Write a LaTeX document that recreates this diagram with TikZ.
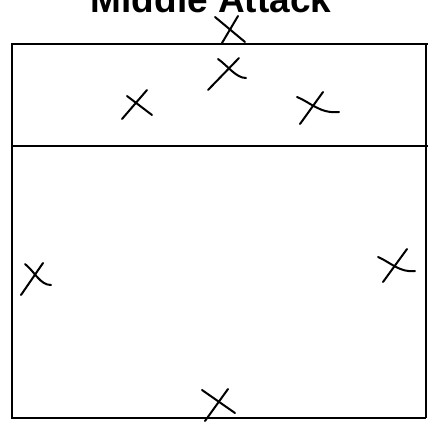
\documentclass[tikz,border=0pt]{standalone}
\usepackage{fontspec}
\setmainfont{Liberation Sans}
\begin{document}
	\begin{tikzpicture}[
		x=1pt, y=-1pt,
		courtline/.style={draw, line width=2.6pt},
		sideline/.style={draw, line width=1.4pt},
		xstroke/.style={draw, line width=2pt, line cap=round},
		title/.style={anchor=base, font=\bfseries\fontsize{37}{37}\selectfont}
	]
	\useasboundingbox (0,0) rectangle (428,421);
	\node[title] (heading) at (211,12.5) {Middle Attack};
	% court
	\draw[courtline] (428,44) -- (12,44) -- (12,418) -- (426,418);
	\draw[sideline] (426,44) -- (426,418);
	\draw[courtline] (12,146) -- (428,146);
	% players
	\draw[xstroke] (215,17) -- (245,42);
	\draw[xstroke] (238,16) -- (222,43);
	\draw[xstroke] (218,59) .. controls (228,66) and (236,78) .. (246,78);
	\draw[xstroke] (239,58) -- (208,90);
	\draw[xstroke] (127,96) -- (152,115);
	\draw[xstroke] (147,90) -- (122,119);
	\draw[xstroke] (297,97) .. controls (310,102) and (320,114) .. (339,112);
	\draw[xstroke] (323,92) -- (300,124);
	\draw[xstroke] (25,264) .. controls (35,272) and (40,285) .. (51,285);
	\draw[xstroke] (43,263) -- (21,295);
	\draw[xstroke] (378,257) .. controls (390,262) and (400,273) .. (415,271);
	\draw[xstroke] (407,249) -- (383,282);
	\draw[xstroke] (202,390) -- (235,413);
	\draw[xstroke] (228,389) -- (205,421);
	\end{tikzpicture}
\end{document}
